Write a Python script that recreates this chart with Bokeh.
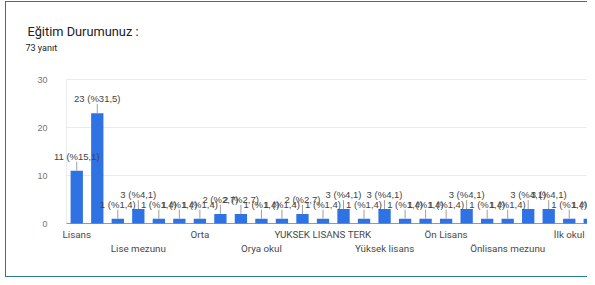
import math
from bokeh.plotting import figure
from bokeh.models import (Range1d, FixedTicker, LinearAxis, Title, LabelSet,
                          ColumnDataSource, InlineStyleSheet)
from bokeh.core.properties import value
from bokeh.embed import file_html
from bokeh.resources import INLINE

# ---------------- data ----------------
title_text = "Eğitim Durumunuz :"
categories = [
    "Lisans", "Lise", "Lisans mezunu", "Lise mezunu", "Ortaokul", "Üniversite",
    "Orta", "İlkokul mezunu", "Ön lisans mezunu", "Orya okul", "Yüksek okul",
    "Lise terk", "YUKSEK LISANS TERK", "Doktora", "Ortaokul mezunu",
    "Yüksek lisans", "Açık öğretim", "Meslek lisesi", "Ön Lisans",
    "Lisans öğrencisi", "Yüksek Lisans mezunu", "Önlisans mezunu",
    "Üniversite mezunu", "İlköğretim", "İlk okul", "Lise öğrencisi",
]
counts = [11, 23, 1, 3, 1, 1, 1, 2, 2, 1, 1, 2, 1, 3, 1, 3, 1, 1, 1, 3, 1, 1, 3, 3, 1, 1]
row1_idx = [0, 6, 12, 18, 24]
row2_idx = [3, 9, 15, 21]
y_ticks = [0, 10, 20, 30]

total = sum(counts)
xs = list(range(len(categories)))
bar_labels = [f"{c} (%{100 * c / total:.1f})".replace(".", ",") for c in counts]
src = ColumnDataSource(dict(x=xs, count=counts, label=bar_labels, cat=categories))

FONT = "Liberation Sans"

band_start = xs[0] - 0.5
X0 = band_start - 14 / 20.52
X1 = band_start + 521 / 20.52
Y1 = 30 + 27 / 4.79

p = figure(width=587, height=277, output_backend="svg", toolbar_location=None,
           x_range=Range1d(X0, X1), y_range=Range1d(0, Y1),
           x_axis_location=None,
           min_border_left=52, min_border_right=0, min_border_top=52,
           min_border_bottom=54)
p.title.visible = False
p.background_fill_color = "white"
p.border_fill_color = "white"
p.outline_line_color = None
p.stylesheets = [InlineStyleSheet(css="""
:host { position: relative; }
:host::after {
  content: ""; position: absolute; left: 5px; top: 1px; width: 582px; height: 276px;
  box-sizing: border-box; border: 1.5px solid #2a7896; border-right: none;
  pointer-events: none; z-index: 10;
}
""")]

# y axis
yax = p.yaxis[0]
yax.ticker = FixedTicker(ticks=y_ticks)
yax.axis_line_color = None
yax.major_tick_line_color = None
yax.minor_tick_line_color = None
yax.major_tick_out = 0
yax.minor_tick_out = 0
yax.major_label_standoff = 5
yax.major_label_text_font = FONT
yax.major_label_text_font_size = "9px"
yax.major_label_text_color = "#757575"
p.ygrid.grid_line_color = None
p.xgrid.grid_line_color = None

# grid lines and frame edge
p.segment(x0=band_start, x1=X1, y0=y_ticks[1:], y1=y_ticks[1:],
          line_color="#ebebeb", line_width=1)
p.segment(x0=band_start, x1=band_start, y0=y_ticks[0], y1=y_ticks[-1],
          line_color="#ebebeb", line_width=1)


def make_axis(idx, standoff):
    ax = LinearAxis(ticker=FixedTicker(ticks=idx),
                    major_label_overrides={i: categories[i] for i in idx})
    ax.axis_line_color = None
    ax.major_tick_line_color = None
    ax.minor_tick_line_color = None
    ax.major_tick_out = 0
    ax.minor_tick_out = 0
    ax.major_tick_in = 0
    ax.major_label_standoff = standoff
    ax.major_label_text_font = "Roboto"
    ax.major_label_text_font_size = "9.8px"
    ax.major_label_text_color = "#4a4a4a"
    return ax


p.add_layout(make_axis(row1_idx, 5), "below")
p.add_layout(make_axis(row2_idx, 0), "below")

# bars
p.vbar(x="x", top="count", bottom=0, width=0.6, source=src,
       fill_color="#2f72e4", line_color=None)

# baseline
p.segment(x0=band_start, x1=X1, y0=y_ticks[0], y1=y_ticks[0],
          line_color="#333333", line_width=1)

# stems and labels
p.ray(x="x", y="count", length=9, angle=math.pi / 2, length_units="screen",
      source=src, line_color="#9e9e9e", line_width=1)
p.add_layout(LabelSet(x="x", y="count", text="label", source=src, y_offset=14.5,
                      text_align="center", text_baseline="middle",
                      text_font=value(FONT), text_font_size=value("9.5px"),
                      text_color=value("#444444")))

# title & subtitle (subtitle added first -> closest to the frame)
p.add_layout(Title(text=f"{total} yanıt", align="left", offset=-27,
                   text_font="Roboto", text_font_size="9px", text_font_style="normal",
                   text_color="#202124", standoff=0), "above")
p.add_layout(Title(text=title_text, align="left", offset=-25,
                   text_font="Roboto", text_font_size="12.8px", text_font_style="normal",
                   text_color="#202124", standoff=3), "above")

open("out.html", "w").write(file_html(p, INLINE))
